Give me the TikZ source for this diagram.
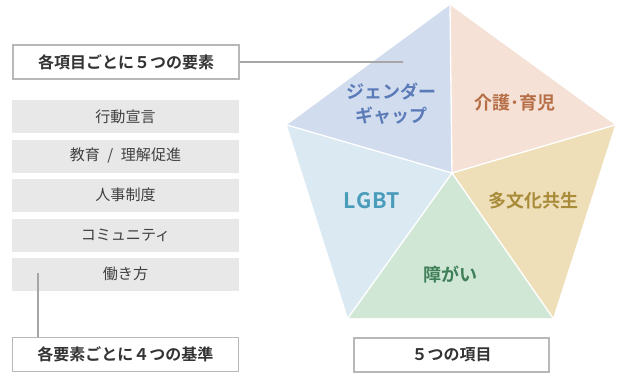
\documentclass[tikz,border=0pt]{standalone}
\usepackage{fontspec}
\setmainfont{Noto Sans CJK JP}
\newfontfamily\jpb{Noto Sans CJK JP Bold}
\newfontfamily\jpbl[LetterSpace=4]{Noto Sans CJK JP Bold}
\begin{document}
\begin{tikzpicture}[x=0.75pt,y=-0.75pt,
  labelbox/.style={draw=black!28,line width=0.8pt,fill=white,minimum width=226*0.75pt,minimum height=34*0.75pt,inner sep=0pt,font=\jpb\fontsize{12pt}{14pt}\selectfont,text=black!80},
  graybox/.style={fill=black!9,minimum width=227*0.75pt,minimum height=33*0.75pt,inner sep=0pt,font=\fontsize{11.3pt}{13pt}\selectfont,text=black!75},
  seclabel/.style={font=\jpb\fontsize{13.5pt}{17.5pt}\selectfont,align=center,inner sep=0pt},
  conn/.style={draw=black!35,line width=0.8pt},
  sep/.style={draw=white,line width=1pt,line join=round}]
\useasboundingbox (0,0) rectangle (618,376);
% colours
\definecolor{cGender}{HTML}{D1DCEE}
\definecolor{cKaigo}{HTML}{F5E1D6}
\definecolor{cTabunka}{HTML}{EFDFB9}
\definecolor{cShogai}{HTML}{D0E7D6}
\definecolor{cLGBT}{HTML}{DAE9F2}
\definecolor{tGender}{HTML}{5B7BB8}
\definecolor{tKaigo}{HTML}{B66F47}
\definecolor{tTabunka}{HTML}{A88C3A}
\definecolor{tShogai}{HTML}{3F7F58}
\definecolor{tLGBT}{HTML}{4A9CBB}
% pentagon
\coordinate (T) at (450,5);
\coordinate (L) at (287,125);
\coordinate (R) at (615,125);
\coordinate (BL) at (348,318);
\coordinate (BR) at (553,318);
\coordinate (C) at (452,173);
\fill[cGender] (T) -- (L) -- (C) -- cycle;
\fill[cKaigo] (T) -- (R) -- (C) -- cycle;
\fill[cTabunka] (R) -- (BR) -- (C) -- cycle;
\fill[cShogai] (BL) -- (BR) -- (C) -- cycle;
\fill[cLGBT] (L) -- (BL) -- (C) -- cycle;
\draw[sep] (T) -- (C) (L) -- (C) (R) -- (C) (BL) -- (C) (BR) -- (C);
% sector labels
\node[seclabel,text=tGender] (gender) at (391,103.5) {ジェンダー\\ギャップ};
\node[seclabel,text=tKaigo] (kaigo) at (515,103) {介護･育児};
\node[seclabel,text=tLGBT,font=\jpbl\fontsize{16pt}{18pt}\selectfont] (lgbt) at (372,201) {LGBT};
\node[seclabel,text=tTabunka] (tabunka) at (533,201) {多文化共生};
\node[seclabel,text=tShogai] (shogai) at (450,275) {障がい};
% left boxes
\node[labelbox] (top) at (126,62) {各項目ごとに５つの要素};
\node[graybox] (b1) at (125.5,116.5) {行動宣言};
\node[graybox] (b2) at (125.5,156) {教育\hspace{0.5em}/\hspace{0.5em}理解促進};
\node[graybox] (b3) at (125.5,195) {人事制度};
\node[graybox] (b4) at (125.5,235) {コミュニティ};
\node[graybox] (b5) at (125.5,274) {働き方};
\node[labelbox] (bot) at (125.5,354.5) {各要素ごとに４つの基準};
\node[labelbox,minimum width=195*0.75pt] (items) at (451.5,355) {５つの項目};
% connectors
\coordinate (ptop) at (403,62);
\draw[conn] (top.east) -- (ptop);
\coordinate (pbot) at (38,273);
\draw[conn] (pbot) -- (bot.north -| pbot);
\end{tikzpicture}
\end{document}
